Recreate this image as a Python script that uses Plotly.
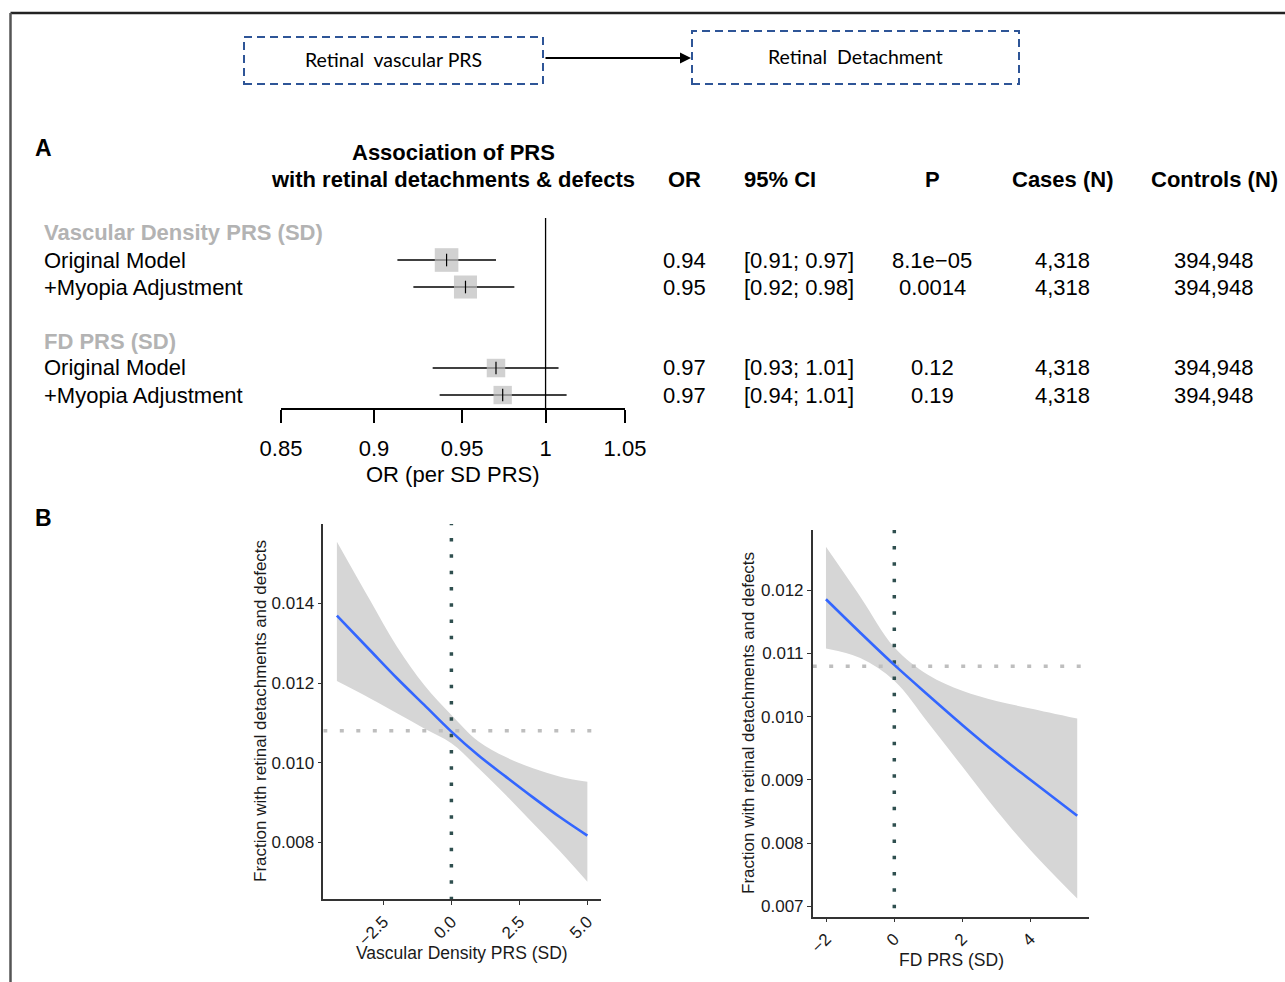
import math
import plotly.graph_objects as go

# ---------------- data ----------------
# Panel A: forest plot
row_labels = ["Original Model", "+Myopia Adjustment", "Original Model", "+Myopia Adjustment"]
group_labels = ["Vascular Density PRS (SD)", "FD PRS (SD)"]
or_est = [0.941, 0.952, 0.970, 0.974]
ci_low = [0.913, 0.922, 0.933, 0.937]
ci_high = [0.970, 0.981, 1.008, 1.013]
p_values = ["8.1e\u221205", "0.0014", "0.12", "0.19"]
cases_n = ["4,318", "4,318", "4,318", "4,318"]
controls_n = ["394,948", "394,948", "394,948", "394,948"]
or_ticks = [0.85, 0.9, 0.95, 1, 1.05]
or_tick_text = ["0.85", "0.9", "0.95", "1", "1.05"]

# Panel B left: vascular density PRS
vd_x = [-4.21, -3, -2, -1, 0, 1, 2, 3, 4, 5]
vd_fit = [0.01369, 0.01283, 0.01212, 0.01145, 0.01078, 0.01018, 0.00965, 0.00913, 0.00863, 0.00817]
vd_hi = [0.01555, 0.01409, 0.01291, 0.01195, 0.01120, 0.01053, 0.01014, 0.00986, 0.00965, 0.00952]
vd_lo = [0.01205, 0.01162, 0.01124, 0.01086, 0.01049, 0.00986, 0.00919, 0.00848, 0.00777, 0.00701]
vd_xticks = [-2.5, 0.0, 2.5, 5.0]
vd_yticks = [0.008, 0.010, 0.012, 0.014]

# Panel B right: FD PRS
fd_x = [-2.01, -1, 0, 1, 2, 3, 4, 5.38]
fd_fit = [0.01186, 0.01133, 0.01082, 0.01034, 0.00987, 0.00942, 0.00900, 0.00843]
fd_hi = [0.01269, 0.01190, 0.01110, 0.01066, 0.01041, 0.01025, 0.01013, 0.00997]
fd_lo = [0.01108, 0.01093, 0.01057, 0.00990, 0.00921, 0.00852, 0.00789, 0.00712]
fd_xticks = [-2, 0, 2, 4]
fd_yticks = [0.007, 0.008, 0.009, 0.010, 0.011, 0.012]

baseline_fraction = 0.0108

# ---------------- helpers ----------------
W, H = 1285, 982
FONT = "Liberation Sans, Arial, Helvetica, sans-serif"


def px(x):
    return x / W


def py(y):
    return 1 - y / H


fig = go.Figure()

# ---------------- Panel A forest ----------------
row_y = [-1, -2, -5, -6]
ci_x, ci_y = [], []
for lo, hi, y in zip(ci_low, ci_high, row_y):
    ci_x += [lo, hi, None]
    ci_y += [y, y, None]

fy0, fy1 = -6.48, 0.556
fig.add_trace(go.Scatter(x=[1, 1], y=[fy0, fy1], mode="lines",
                         line=dict(color="black", width=1.3),
                         xaxis="x", yaxis="y", hoverinfo="skip", cliponaxis=False))
fig.add_trace(go.Scatter(x=ci_x, y=ci_y, mode="lines",
                         line=dict(color="black", width=1.5),
                         xaxis="x", yaxis="y", hoverinfo="skip", cliponaxis=False))
se = [(math.log(h) - math.log(l)) / 3.92 for l, h in zip(ci_low, ci_high)]
box_sizes = [0.365 / s for s in se]
fig.add_trace(go.Scatter(x=or_est, y=row_y, mode="markers",
                         marker=dict(symbol="square", size=box_sizes, color="#bdbdbd",
                                     line=dict(width=0)),
                         xaxis="x", yaxis="y", cliponaxis=False))
fig.add_trace(go.Scatter(x=or_est, y=row_y, mode="markers",
                         marker=dict(symbol="line-ns", size=9,
                                     line=dict(width=1.2, color="black")),
                         xaxis="x", yaxis="y", cliponaxis=False))

# ---------------- Panel B panels ----------------
def add_panel(xs, fit, lo, hi, xa, ya, xr):
    fig.add_trace(go.Scatter(x=xs, y=lo, mode="lines", line=dict(width=0, shape="spline"),
                             xaxis=xa, yaxis=ya, hoverinfo="skip"))
    fig.add_trace(go.Scatter(x=xs, y=hi, mode="lines", line=dict(width=0, shape="spline"),
                             fill="tonexty", fillcolor="#d6d6d6",
                             xaxis=xa, yaxis=ya, hoverinfo="skip"))
    fig.add_trace(go.Scatter(x=[xr[0], xr[1]], y=[baseline_fraction, baseline_fraction],
                             mode="lines", line=dict(color="#bebebe", width=3.5, dash="4px,12.5px"),
                             xaxis=xa, yaxis=ya, hoverinfo="skip"))
    fig.add_trace(go.Scatter(x=[0, 0], y=[0, 1], mode="lines",
                             line=dict(color="#2f4f4f", width=3.5, dash="3.5px,12.8px"),
                             xaxis=xa, yaxis=ya, hoverinfo="skip"))
    fig.add_trace(go.Scatter(x=xs, y=fit, mode="lines",
                             line=dict(color="#3366ff", width=2.6, shape="spline"),
                             xaxis=xa, yaxis=ya, hoverinfo="skip"))


vd_xr = [-4.71, 5.49]
vd_yr = [0.00657, 0.015993]
fd_xr = [-2.40, 5.735]
fd_yr = [0.006833, 0.012956]
add_panel(vd_x, vd_fit, vd_lo, vd_hi, "x2", "y2", vd_xr)
add_panel(fd_x, fd_fit, fd_lo, fd_hi, "x3", "y3", fd_xr)

tick_font_b = dict(family=FONT, size=17, color="#1a1a1a")
common_b_x = dict(showgrid=False, zeroline=False, showline=True, linecolor="#333333",
                  linewidth=1.5, ticks="outside", ticklen=4, tickwidth=1.2,
                  tickcolor="#333333", tickangle=-45, tickfont=tick_font_b, automargin=False)
common_b_y = dict(showgrid=False, zeroline=False, showline=True, linecolor="#333333",
                  linewidth=1.5, ticks="outside", ticklen=4, tickwidth=1.2,
                  tickcolor="#333333", tickfont=tick_font_b, tickformat=".3f", automargin=False)

fig.update_layout(
    width=W, height=H, margin=dict(l=0, r=0, t=0, b=0, pad=0, autoexpand=False),
    paper_bgcolor="white", plot_bgcolor="white", showlegend=False,
    font=dict(family=FONT, color="black"),
    xaxis=dict(domain=[px(281), px(625)], anchor="y", type="log",
               range=[math.log10(0.85), math.log10(1.05)],
               tickvals=or_ticks, ticktext=or_tick_text,
               showgrid=False, zeroline=False, showline=True, linecolor="black",
               linewidth=1.5, ticks="outside", ticklen=13, tickwidth=1.5,
               tickcolor="black", tickfont=dict(family=FONT, size=22, color="black"),
               ticklabelstandoff=7, automargin=False),
    yaxis=dict(domain=[py(408), py(218)], anchor="x", range=[fy0, fy1], visible=False,
               automargin=False),
    xaxis2=dict(domain=[px(323.3), px(600.7)], anchor="y2", range=vd_xr,
                tickvals=vd_xticks, tickformat=".1f", **common_b_x),
    yaxis2=dict(domain=[py(899.3), py(524)], anchor="x2", range=vd_yr,
                tickvals=vd_yticks, **common_b_y),
    xaxis3=dict(domain=[px(812.7), px(1089.3)], anchor="y3", range=fd_xr,
                tickvals=fd_xticks, tickformat="d", **common_b_x),
    yaxis3=dict(domain=[py(916.7), py(530)], anchor="x3", range=fd_yr,
                tickvals=fd_yticks, **common_b_y),
)

# ---------------- shapes ----------------
shapes = [
    dict(type="line", xref="paper", yref="paper", x0=px(10.5), x1=px(1285), y0=py(13), y1=py(13),
         line=dict(color="#222222", width=2.5)),
    dict(type="line", xref="paper", yref="paper", x0=px(10.5), x1=px(10.5), y0=py(13), y1=py(982),
         line=dict(color="#555555", width=2.5)),
    dict(type="rect", xref="paper", yref="paper", x0=px(244), x1=px(543), y0=py(84), y1=py(37),
         line=dict(color="#2e5597", width=2, dash="8px,5px")),
    dict(type="rect", xref="paper", yref="paper", x0=px(692), x1=px(1019), y0=py(84), y1=py(31),
         line=dict(color="#2e5597", width=2, dash="8px,5px")),
]
fig.update_layout(shapes=shapes)

# ---------------- annotations ----------------
ann = []


def text(x, y, s, size=22, bold=False, color="black", xanchor="center", family=FONT, angle=0):
    if bold:
        s = "<b>" + s + "</b>"
    ann.append(dict(x=px(x), y=py(y), xref="paper", yref="paper", text=s, showarrow=False,
                    xanchor=xanchor, yanchor="middle", textangle=angle,
                    font=dict(family=family, size=size, color=color)))


# top diagram
text(393, 59, "Retinal  vascular PRS", size=19.5, family="Lato, Carlito, sans-serif")
text(855, 57, "Retinal  Detachment", size=19.5, family="Lato, Carlito, sans-serif")
ann.append(dict(x=px(691), y=py(58), ax=-147, ay=0, xref="paper", yref="paper",
                text="", showarrow=True, arrowhead=2,
                arrowsize=1.1, arrowwidth=2, arrowcolor="black", standoff=0, startstandoff=0))

# panel letters
text(43, 148, "A", size=23, bold=True)
text(43, 518, "B", size=23, bold=True)

# forest header
text(453, 152, "Association of PRS", bold=True)
text(453, 179, "with retinal detachments &amp; defects", bold=True)
col_or, col_ci, col_p, col_cases, col_ctrl = 684, 742, 932, 1062, 1214
text(col_or, 179, "OR", bold=True)
text(col_ci, 179, "95% CI", bold=True, xanchor="left")
text(col_p, 179, "P", bold=True)
text(col_cases, 179, "Cases (N)", bold=True)
text(col_ctrl, 179, "Controls (N)", bold=True)

# rows
group_y = [233, 341]
for g, gy in zip(group_labels, group_y):
    text(42, gy, g, bold=True, color="#b3b3b3", xanchor="left")
row_px = [260, 287, 368, 395]
for i, yy in enumerate(row_px):
    text(42, yy, row_labels[i], xanchor="left")
    text(col_or, yy, f"{or_est[i]:.2f}")
    text(col_ci, yy, f"[{ci_low[i]:.2f}; {ci_high[i]:.2f}]", xanchor="left")
    text(col_p, yy, p_values[i])
    text(col_cases, yy, cases_n[i])
    text(col_ctrl, yy, controls_n[i])

text(453, 475, "OR (per SD PRS)")

# panel B titles
text(462, 953, "Vascular Density PRS (SD)", size=17.5, color="#1a1a1a")
text(951, 960, "FD PRS (SD)", size=17.5, color="#1a1a1a")
text(260, 711, "Fraction with retinal detachments and defects", size=17, color="#1a1a1a", angle=-90)
text(748, 723, "Fraction with retinal detachments and defects", size=17, color="#1a1a1a", angle=-90)

fig.update_layout(annotations=ann)

fig.write_html("out.html")
